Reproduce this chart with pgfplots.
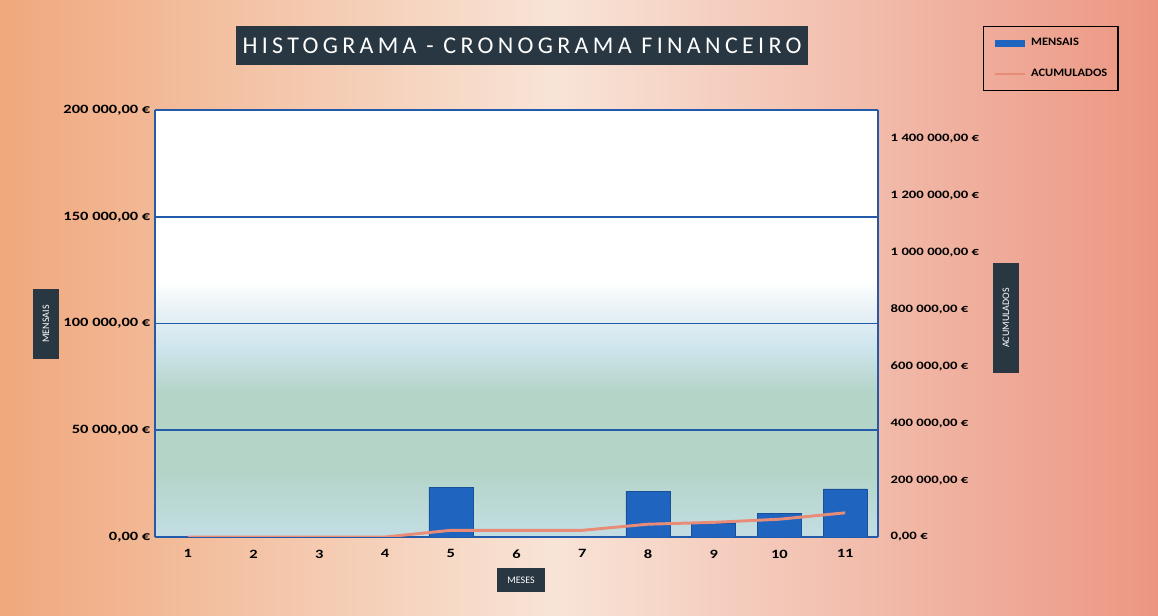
\documentclass[border=0pt]{standalone}
\usepackage{pgfplots}
\pgfplotsset{compat=1.18}
\usepackage{fontspec}
\setmainfont{Carlito}
\newfontfamily\tickfont[FakeStretch=1.3]{Carlito}
\newfontfamily\legfont[FakeStretch=1.1]{Carlito}
\newfontfamily\titlefont[LetterSpace=18]{Carlito}
\definecolor{barblue}{RGB}{31,100,190}
\definecolor{linepink}{RGB}{232,140,120}
\definecolor{gridblue}{RGB}{35,90,170}
\definecolor{boxdark}{RGB}{40,55,65}
\definecolor{bgL}{RGB}{240,168,125}
\definecolor{bgM}{RGB}{248,228,215}
\definecolor{bgR}{RGB}{236,150,130}
\definecolor{pA}{RGB}{195,222,228}
\definecolor{pB}{RGB}{180,212,200}
\definecolor{pC}{RGB}{205,228,236}
\definecolor{pD}{RGB}{238,245,248}
\pgfdeclarehorizontalshading{chartbg}{100bp}{color(0bp)=(bgL); color(25bp)=(bgL); color(49bp)=(bgM); color(75bp)=(bgR); color(100bp)=(bgR)}
\pgfdeclareverticalshading{plotbg}{100bp}{color(0bp)=(pA); color(25bp)=(pA); color(32.5bp)=(pB); color(42bp)=(pB); color(47bp)=(pC); color(52.5bp)=(pD); color(55bp)=(white); color(100bp)=(white)}
\pgfplotstableread{
x m c
1 0 0
2 0 0
3 0 0
4 0 0
5 23400 23400
6 0 23400
7 0 23400
8 21500 44900
9 6500 51400
10 11000 62400
11 22500 84900
}\datatable
\begin{document}
\begin{tikzpicture}[x=0.75pt,y=0.75pt]
\shade[shading=chartbg] (0,0) rectangle (1158,616);
\begin{axis}[
  at={(116.25pt,59.25pt)}, anchor=south west,
  width=542.25pt, height=320.25pt, scale only axis,
  xmin=0.5, xmax=11.5, ymin=0, ymax=200000,
  scaled y ticks=false,
  axis y line*=left, axis x line*=bottom,
  axis line style={gridblue, line width=1.3pt},
  axis background/.style={shading=plotbg},
  xtick={1,...,11}, xticklabels={1,2,3,4,5,6,7,8,9,10,11},
  ytick={0,50000,100000,150000,200000},
  yticklabels={{0,00 €},{50 000,00 €},{100 000,00 €},{150 000,00 €},{200 000,00 €}},
  ymajorgrids, grid style={gridblue, line width=1.3pt},
  major tick length=0pt,
  tick label style={font=\tickfont\bfseries\fontsize{9.5}{11}\selectfont, text=black},
  xticklabel style={yshift=-6pt},
  xtick style={draw=none}, ytick style={draw=none},
  ]
  \fill[gridblue] (axis cs:0.5,99550) rectangle (axis cs:11.5,100450);
  \addplot[ybar, bar width=44*0.75pt, fill=barblue, draw=barblue!80!black] table[x=x,y=m]{\datatable};
\end{axis}
\begin{axis}[
  at={(116.25pt,59.25pt)}, anchor=south west,
  width=542.25pt, height=320.25pt, scale only axis,
  xmin=0.5, xmax=11.5, ymin=0, ymax=1500000,
  scaled y ticks=false,
  axis y line*=right, axis x line=none,
  axis line style={gridblue, line width=1.3pt},
  ytick={0,200000,400000,600000,800000,1000000,1200000,1400000},
  yticklabels={{0,00 €},{200 000,00 €},{400 000,00 €},{600 000,00 €},{800 000,00 €},{1 000 000,00 €},{1 200 000,00 €},{1 400 000,00 €}},
  major tick length=0pt, ytick style={draw=none},
  yticklabel style={font=\tickfont\bfseries\fontsize{8.5}{10}\selectfont, text=black, xshift=6pt},
  legend style={at={(1.145,1.197)}, anchor=north west, draw=black, line width=1pt, fill=none,
    font=\legfont\bfseries\fontsize{8.5}{10}\selectfont,
    row sep=12pt, inner xsep=6pt, inner ysep=7pt},
  legend cell align=left,
  legend image code/.code={\draw[#1] (0cm,0cm) -- (0.8cm,0cm);},
  legend columns=1,
  ]
  \addlegendimage{barblue, line width=5pt}
  \addlegendentry{MENSAIS}
  \addplot[linepink, line width=2.2pt] table[x=x,y=c]{\datatable};
  \addlegendentry{ACUMULADOS}
\end{axis}
\node[fill=boxdark, text=white, font=\titlefont\fontsize{18}{21}\selectfont, minimum width=572*0.75pt, minimum height=39*0.75pt, inner sep=0pt] at (522,570) {HISTOGRAMA - CRONOGRAMA FINANCEIRO};
\node[fill=boxdark, text=white, font=\fontsize{7.5}{9}\selectfont, rotate=90, minimum width=70*0.75pt, minimum height=26*0.75pt, inner sep=1pt] at (46,292) {MENSAIS};
\node[fill=boxdark, text=white, font=\fontsize{7.5}{9}\selectfont, rotate=90, minimum width=110*0.75pt, minimum height=26*0.75pt, inner sep=1pt] at (1006,298) {ACUMULADOS};
\node[fill=boxdark, text=white, font=\fontsize{7.5}{9}\selectfont, minimum width=48*0.75pt, minimum height=24*0.75pt, inner sep=1pt] at (521,36) {MESES};
\end{tikzpicture}
\end{document}
